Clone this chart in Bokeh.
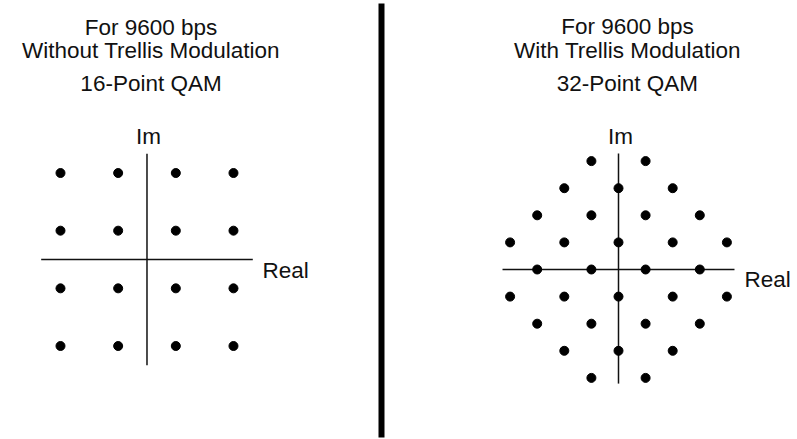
from bokeh.plotting import figure
from bokeh.models import Range1d
from bokeh.core.properties import value
from bokeh.embed import file_html
from bokeh.resources import INLINE

# ---- data ----
titles_left = ["For 9600 bps", "Without Trellis Modulation", "16-Point QAM"]
titles_right = ["For 9600 bps", "With Trellis Modulation", "32-Point QAM"]
axis_labels = ["Real", "Im"]

qam16_real = [-3, -1, 1, 3, -3, -1, 1, 3, -3, -1, 1, 3, -3, -1, 1, 3]
qam16_imag = [3, 3, 3, 3, 1, 1, 1, 1, -1, -1, -1, -1, -3, -3, -3, -3]

qam32_real = [-1, 1, -2, 0, 2, -3, -1, 1, 3, -4, -2, 0, 2, 4, -3, -1, 1, 3,
              -4, -2, 0, 2, 4, -3, -1, 1, 3, -2, 0, 2, -1, 1]
qam32_imag = [4, 4, 3, 3, 3, 2, 2, 2, 2, 1, 1, 1, 1, 1, 0, 0, 0, 0,
              -1, -1, -1, -1, -1, -2, -2, -2, -2, -3, -3, -3, -4, -4]

axis_extent_left = 3.67
axis_extent_right = 4.28

FONT = value("Liberation Sans")
FS = "22.5px"
INK = "#111111"

p = figure(width=797, height=439, output_backend="svg", toolbar_location=None,
           x_range=Range1d(-5.081, 22.563), y_range=Range1d(-6.243, 8.984),
           min_border=0, min_border_left=0, min_border_right=0,
           min_border_top=0, min_border_bottom=0)
p.extra_x_ranges = {"r": Range1d(-22.804, 6.605)}
p.extra_y_ranges = {"r": Range1d(-6.273, 9.926)}
p.axis.visible = False
p.grid.visible = False
p.outline_line_color = None
p.background_fill_color = "white"
p.border_fill_color = "white"

# ---- left panel ----
e = axis_extent_left
p.line([-e, e], [0, 0], line_color=INK, line_width=1.5)
p.line([0, 0], [-e, e], line_color=INK, line_width=1.5)
p.scatter(qam16_real, qam16_imag, size=9, color="black")

p.text(x=[0.14, 0.14, 0.14], y=[8.047, 7.267, 6.105], text=titles_left,
       text_font=FONT, text_font_size=FS, text_align="center",
       text_baseline="alphabetic", text_color=INK)
p.text(x=[0.05], y=[4.266], text=[axis_labels[1]], text_font=FONT, text_font_size=FS,
       text_align="center", text_baseline="alphabetic", text_color=INK)
p.text(x=[4.006], y=[-0.38], text=[axis_labels[0]], text_font=FONT, text_font_size=FS,
       text_align="left", text_baseline="alphabetic", text_color=INK)

# divider between the two panels
p.segment(x0=[8.134], y0=[8.88], x1=[8.134], y1=[-6.174],
          line_color="black", line_width=6)

# ---- right panel ----
e = axis_extent_right
kw = dict(x_range_name="r", y_range_name="r")
p.line([-e, e], [0, 0], line_color=INK, line_width=1.5, **kw)
p.line([0, 0], [-e + 0.07, e], line_color=INK, line_width=1.5, **kw)
p.scatter(qam32_real, qam32_imag, size=9, color="black", **kw)

p.text(x=[0.33, 0.33, 0.33], y=[8.967, 8.081, 6.863], text=titles_right,
       text_font=FONT, text_font_size=FS, text_align="center",
       text_baseline="alphabetic", text_color=INK, **kw)
p.text(x=[0.07], y=[4.908], text=[axis_labels[1]], text_font=FONT, text_font_size=FS,
       text_align="center", text_baseline="alphabetic", text_color=INK, **kw)
p.text(x=[4.65], y=[-0.369], text=[axis_labels[0]], text_font=FONT, text_font_size=FS,
       text_align="left", text_baseline="alphabetic", text_color=INK, **kw)

open("out.html", "w").write(file_html(p, INLINE))
